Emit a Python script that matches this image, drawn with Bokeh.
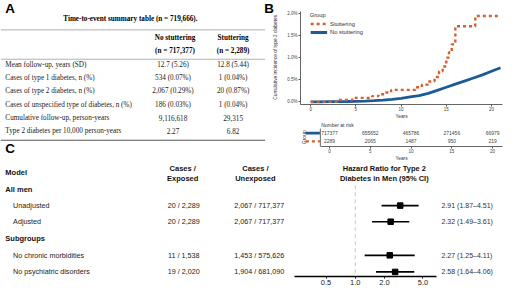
from math import pi
from bokeh.plotting import figure
from bokeh.layouts import row, column
from bokeh.models import Range1d, FixedTicker, PrintfTickFormatter
from bokeh.core.properties import value
from bokeh.embed import file_html
from bokeh.resources import INLINE

# ------------------------------------------------------------------ data
table_title = "Time-to-event summary table (n = 719,666)."
table_cols = ["No stuttering", "Stuttering"]
table_col_n = ["(n = 717,377)", "(n = 2,289)"]
table_rows = [
    "Mean follow-up, years (SD)",
    "Cases of type 1 diabetes, n (%)",
    "Cases of type 2 diabetes, n (%)",
    "Cases of unspecified type of diabetes, n (%)",
    "Cumulative follow-up, person-years",
    "Type 2 diabetes per 10,000 person-years",
]
table_no_stutter = ["12.7 (5.26)", "534 (0.07%)", "2,067 (0.29%)", "186 (0.03%)", "9,116,618", "2.27"]
table_stutter = ["12.8 (5.44)", "1 (0.04%)", "20 (0.87%)", "1 (0.04%)", "29,315", "6.82"]

# cumulative incidence (%)
km_t_stutter = [0, 2.9, 4.6, 6.8, 7.5, 8.2, 8.9, 11.6, 12.3, 13.0, 13.7, 14.2, 14.6, 15.0, 15.3, 15.6, 16.0, 18.2, 21.0]
km_v_stutter = [0, 0.04, 0.09, 0.13, 0.17, 0.21, 0.27, 0.33, 0.39, 0.46, 0.56, 0.69, 0.80, 1.00, 1.12, 1.30, 1.71, 1.94, 1.94]
km_t_none = [0, 1, 2, 3, 4, 5, 6, 7, 8, 9, 10, 11, 12, 13, 14, 15, 16, 17, 18, 19, 20, 21]
km_v_none = [0, 0.001, 0.003, 0.005, 0.008, 0.012, 0.018, 0.026, 0.037, 0.055, 0.08, 0.11, 0.14, 0.19,
             0.26, 0.33, 0.40, 0.47, 0.54, 0.61, 0.69, 0.77]
km_y_ticks = [0, 0.5, 1.0, 1.5, 2.0]
km_x_ticks = [0, 5, 10, 15, 20]
group_labels = ["Stuttering", "No stuttering"]

risk_times = [0, 5, 10, 15, 20]
risk_none = [717377, 655652, 465786, 271456, 66979]
risk_stutter = [2289, 2065, 1487, 950, 219]

fp_sections = ["All men", "Subgroups"]
fp_rows = ["Unadjusted", "Adjusted", "No chronic morbidities", "No psychiatric disorders"]
fp_exposed = ["20 / 2,289", "20 / 2,289", "11 / 1,538", "19 / 2,020"]
fp_unexposed = ["2,067 / 717,377", "2,067 / 717,377", "1,453 / 575,626", "1,904 / 681,090"]
fp_hr = [2.91, 2.32, 2.27, 2.58]
fp_lo = [1.87, 1.49, 1.25, 1.64]
fp_hi = [4.51, 3.61, 4.11, 4.06]
fp_ticks = [0.5, 1.0, 2.0, 5.0]

# ------------------------------------------------------------------ layout helpers
SX = 504 / 520
SY = 288 / 304
FSC = 0.96
C_ORANGE = "#D35F32"
C_BLUE = "#1B5B97"
SANS = "Liberation Sans"
SERIF = "Liberation Serif"


def fs(v):
    return f"{v * FSC:.1f}px"


def styled(p):
    p.outline_line_color = None
    p.xgrid.visible = False
    p.ygrid.visible = False
    p.background_fill_color = "white"
    p.border_fill_color = "white"
    return p


def txt(p, x, y, t, size, font=SANS, style="normal", align="left", color="#222", angle=0.0, baseline="middle"):
    p.text(x=x, y=y, text=t, text_font=value(font), text_font_size=fs(size), text_font_style=style,
           text_align=align, text_baseline=baseline, text_color=color, angle=angle)


# ------------------------------------------------------------------ tile A (table + panel letters)
WA = round(287 * SX)
H_TOP = 163
TOP_REF = H_TOP / SY
pa = figure(width=WA, height=H_TOP, x_range=Range1d(0, WA / SX), y_range=Range1d(TOP_REF, 0),
            output_backend="svg", toolbar_location=None, x_axis_location=None, y_axis_location=None,
            min_border=0)
styled(pa)
txt(pa, [5], [8], ["A"], 14, style="bold", color="black")
txt(pa, [272], [8], ["B"], 14, style="bold", color="black")
txt(pa, [5], [156], ["C"], 14, style="bold", color="black")
txt(pa, [134], [19], [table_title], 7.5, font=SERIF, style="bold", align="center", color="black")
pa.segment(x0=[0, 0], y0=[31, 62], x1=[273, 273], y1=[31, 62], line_color="#a8a8a8", line_width=0.9)
pa.segment(x0=[0], y0=[147.5], x1=[273], y1=[147.5], line_color="#555555", line_width=1.2)
col_x = [180, 240]
txt(pa, col_x, [40, 40], table_cols, 7.5, font=SERIF, style="bold", align="center", color="black")
txt(pa, col_x, [53, 53], table_col_n, 7.5, font=SERIF, style="bold", align="center", color="black")
row_y = [68.5, 82, 96, 110.5, 124, 138]
txt(pa, [5] * len(table_rows), row_y, table_rows, 7.5, font=SERIF, color="#222")
txt(pa, [178] * len(table_rows), row_y, table_no_stutter, 7.5, font=SERIF, align="center", color="#222")
txt(pa, [240] * len(table_rows), row_y, table_stutter, 7.5, font=SERIF, align="center", color="#222")
txt(pa, [283.5], [60], ["Cumulative incidence of type 2 diabetes"], 5, align="center", color="#333", angle=pi / 2)

# ------------------------------------------------------------------ panel B: cumulative incidence
WB = 504 - WA
H_KM = 121
PX_YR = 9.33      # ref px per year
PX_PCT = 47.2     # ref px per percent
KM_BL, KM_BT, KM_BB, KM_BR = 22, 11, 16, 2
km_left_ref = (WA + KM_BL) / SX
km_right_ref = (504 - KM_BR) / SX
km_top_ref = KM_BT / SY
km_bot_ref = (H_KM - KM_BB) / SY
km_x0 = (km_left_ref - 320) / PX_YR
km_x1 = (km_right_ref - 320) / PX_YR
km_y0 = -(km_bot_ref - 108) / PX_PCT
km_y1 = (108 - km_top_ref) / PX_PCT

pk = figure(width=WB, height=H_KM, x_range=Range1d(km_x0, km_x1), y_range=Range1d(km_y0, km_y1),
            output_backend="svg", toolbar_location=None,
            min_border_left=KM_BL, min_border_right=KM_BR, min_border_top=KM_BT, min_border_bottom=KM_BB)
styled(pk)


def style_axis(ax, size=4.7):
    ax.axis_line_color = "#555555"
    ax.axis_line_width = 0.9
    ax.major_tick_line_color = "#555555"
    ax.major_tick_out = 2
    ax.major_tick_in = 0
    ax.minor_tick_line_color = None
    ax.minor_tick_out = 0
    ax.minor_tick_in = 0
    ax.major_label_text_font_size = fs(size)
    ax.major_label_text_font = SANS
    ax.major_label_text_color = "#444444"
    ax.major_label_standoff = 0


def years_label(ax):
    ax.axis_label = "Years"
    ax.axis_label_text_font_size = fs(5)
    ax.axis_label_text_font_style = "normal"
    ax.axis_label_text_font = SANS
    ax.axis_label_text_color = "#333333"
    ax.axis_label_standoff = 0


for ax in pk.axis:
    style_axis(ax)
pk.yaxis.major_label_standoff = 1
pk.yaxis.ticker = FixedTicker(ticks=km_y_ticks)
pk.yaxis.formatter = PrintfTickFormatter(format="%.1f%%")
pk.xaxis.ticker = FixedTicker(ticks=km_x_ticks)
years_label(pk.xaxis[0])

pk.line(km_t_none, km_v_none, line_color=C_BLUE, line_width=2.8)
pk.step(km_t_stutter, km_v_stutter, mode="after", line_color=C_ORANGE, line_width=2.4, line_dash="3 3")

# legend (drawn in the plot area like the reference)
lg_x0 = (320 - 320) / PX_YR
lg_x1 = (337 - 320) / PX_YR
lg_tx = (340 - 320) / PX_YR
lg_y = [(108 - 25) / PX_PCT, (108 - 34) / PX_PCT]
txt(pk, [(319 - 320) / PX_YR], [(108 - 15.5) / PX_PCT], ["Group"], 6, color="#333")
pk.segment(x0=[lg_x0], y0=[lg_y[0]], x1=[lg_x1], y1=[lg_y[0]], line_color=C_ORANGE, line_width=2.4, line_dash="3 3")
pk.segment(x0=[lg_x0], y0=[lg_y[1]], x1=[lg_x1], y1=[lg_y[1]], line_color=C_BLUE, line_width=2.8)
txt(pk, [lg_tx, lg_tx], lg_y, group_labels, 6, color="#333")

# ------------------------------------------------------------------ panel B: number at risk
H_RISK = H_TOP - H_KM
RK_BB = 16
rk_x0 = (WA / SX - 320) / PX_YR
rk_top_ref = H_KM / SY
rk_bot_ref = (H_TOP - RK_BB) / SY
ROW_PX = 9.0   # ref px between rows; row 0 (title) sits at ref y = 131.5
rk_y_top = (rk_top_ref - 131.5) / ROW_PX
rk_y_bot = (rk_bot_ref - 131.5) / ROW_PX
pr = figure(width=WB, height=H_RISK, x_range=Range1d(rk_x0, km_x1), y_range=Range1d(rk_y_bot, rk_y_top),
            output_backend="svg", toolbar_location=None, y_axis_location=None,
            min_border_left=0, min_border_right=KM_BR, min_border_top=0, min_border_bottom=RK_BB)
styled(pr)
style_axis(pr.xaxis[0])
pr.xaxis.ticker = FixedTicker(ticks=km_x_ticks)
pr.xaxis.bounds = (km_x0, km_x1)
years_label(pr.xaxis[0])
pr.segment(x0=[km_x0], y0=[0.45], x1=[km_x0], y1=[rk_y_bot], line_color="#555555", line_width=0.9)
txt(pr, [km_x0 + 0.1], [0], ["Number at risk"], 5.2, color="#333")
txt(pr, risk_times, [1] * len(risk_times), [str(v) for v in risk_none], 5.2, align="center", color="#444")
txt(pr, risk_times, [2] * len(risk_times), [str(v) for v in risk_stutter], 5.2, align="center", color="#444")
mk0 = (293 - 320) / PX_YR
mk1 = (309 - 320) / PX_YR
pr.segment(x0=[mk0], y0=[1], x1=[mk1], y1=[1], line_color=C_BLUE, line_width=2.8)
pr.segment(x0=[mk0], y0=[2], x1=[mk1], y1=[2], line_color=C_ORANGE, line_width=2.4, line_dash="3 3")
txt(pr, [(290.5 - 320) / PX_YR], [1.5], ["Group"], 5.2, align="center", color="#333", angle=pi / 2)

# ------------------------------------------------------------------ panel C: forest plot
H_C = 288 - H_TOP
C_BB = 12
DEC = 100.0   # ref px per decade
X1 = 366.0    # ref px of HR = 1


def LX(px):
    return 10 ** ((px - X1) / DEC)


c_bottom = TOP_REF + (H_C - C_BB) / SY
pc = figure(width=504, height=H_C, x_axis_type="log", x_range=Range1d(LX(0), LX(520)),
            y_range=Range1d(c_bottom, TOP_REF), output_backend="svg", toolbar_location=None,
            y_axis_location=None, min_border_left=0, min_border_right=0, min_border_top=0,
            min_border_bottom=C_BB)
styled(pc)
ax = pc.xaxis[0]
ax.ticker = FixedTicker(ticks=fp_ticks)
ax.major_label_overrides = {t: f"{t:.1f}" for t in fp_ticks}
ax.bounds = (LX(303), LX(450))
ax.axis_line_color = "black"
ax.axis_line_width = 1.4
ax.major_tick_line_color = "black"
ax.major_tick_out = 2
ax.major_tick_in = 0
ax.minor_tick_line_color = None
ax.minor_tick_out = 0
ax.minor_tick_in = 0
ax.major_label_text_font_size = fs(7.8)
ax.major_label_text_font = SANS
ax.major_label_text_color = "#222"
ax.major_label_standoff = 1

sec_y = [199, 251]
row_yc = [216.5, 233.5, 269, 286.5]
txt(pc, [LX(5)], [182], ["Model"], 7.8, style="bold", color="#111")
txt(pc, [LX(188), LX(188)], [177.5, 188], ["Cases /", "Exposed"], 7.8, style="bold", align="center", color="#111")
txt(pc, [LX(263), LX(263)], [177.5, 188], ["Cases /", "Unexposed"], 7.8, style="bold", align="center", color="#111")
txt(pc, [LX(396), LX(396)], [177.5, 188], ["Hazard Ratio for Type 2", "Diabetes in Men (95% CI)"], 7.8,
    style="bold", align="center", color="#111")
txt(pc, [LX(5)] * 2, sec_y, fp_sections, 7.8, style="bold", color="#111")
txt(pc, [LX(13)] * 4, row_yc, fp_rows, 7.5, color="#222")
txt(pc, [LX(189)] * 4, row_yc, fp_exposed, 7.5, align="center", color="#222")
txt(pc, [LX(267)] * 4, row_yc, fp_unexposed, 7.5, align="center", color="#222")
txt(pc, [LX(455)] * 4, row_yc, [f"{h:.2f} ({l:.2f}\u2013{u:.2f})" for h, l, u in zip(fp_hr, fp_lo, fp_hi)],
    7.3, color="#333")
pc.segment(x0=[1.0], y0=[195], x1=[1.0], y1=[c_bottom], line_color="#c8c8c8", line_width=1, line_dash="4 3")
pc.segment(x0=fp_lo, y0=row_yc, x1=fp_hi, y1=row_yc, line_color="black", line_width=1.6)
pc.scatter(fp_hr, row_yc, marker="square", size=5.5, color="black")

layout = column(row(pa, column(pk, pr)), pc)
open("out.html", "w").write(file_html(layout, INLINE))
